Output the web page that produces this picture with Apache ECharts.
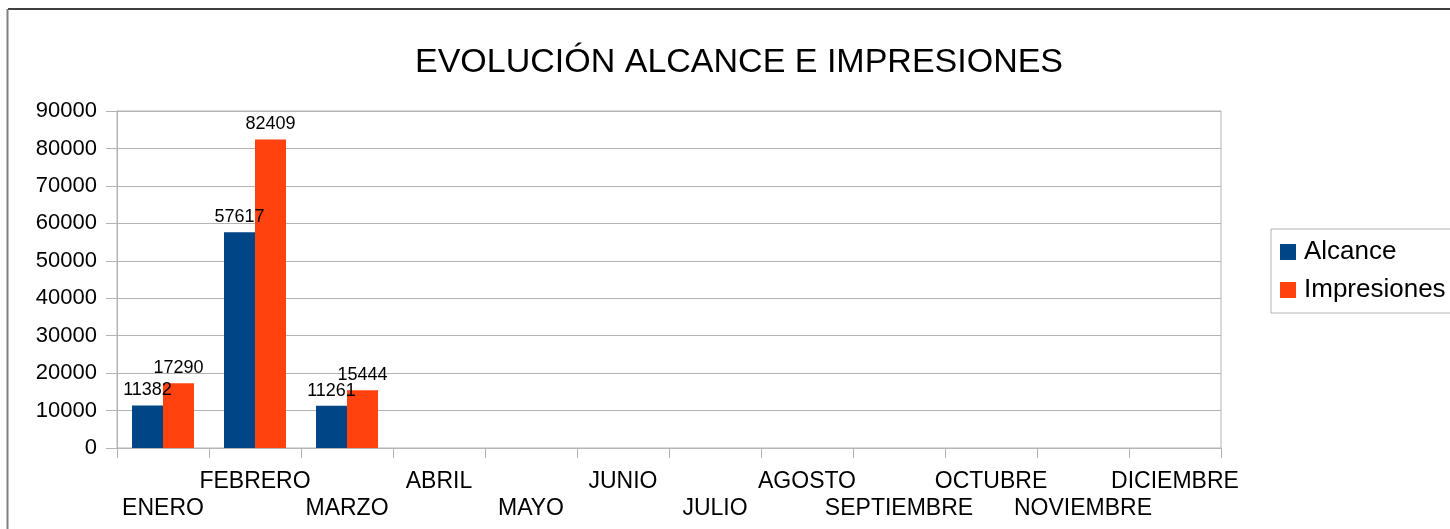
<!DOCTYPE html>
<html>
<head>
<meta charset="utf-8">
<script src="https://cdn.jsdelivr.net/npm/echarts@6/dist/echarts.min.js"></script>
<style>
  html, body { margin: 0; padding: 0; background: #fff; }
  #main { width: 1450px; height: 529px; }
</style>
</head>
<body>
<div id="main"></div>
<script>
// datos del gráfico
var meses = ['ENERO', 'FEBRERO', 'MARZO', 'ABRIL', 'MAYO', 'JUNIO', 'JULIO',
  'AGOSTO', 'SEPTIEMBRE', 'OCTUBRE', 'NOVIEMBRE', 'DICIEMBRE'];
var alcance = [11382, 57617, 11261, null, null, null, null, null, null, null, null, null];
var impresiones = [17290, 82409, 15444, null, null, null, null, null, null, null, null, null];
var yTicks = [0, 10000, 20000, 30000, 40000, 50000, 60000, 70000, 80000, 90000];

var fuente = 'Liberation Sans';
var gris = '#b3b3b3';

var chartDom = document.getElementById('main');
var myChart = echarts.init(chartDom);

var etiqueta = {
  show: true,
  position: 'top',
  distance: 6,
  color: '#000',
  fontFamily: fuente,
  fontSize: 18,
  lineHeight: 18
};

var option = {
  animation: false,
  backgroundColor: '#fff',
  textStyle: { fontFamily: fuente },
  title: {
    text: 'EVOLUCIÓN ALCANCE E IMPRESIONES',
    left: 415,
    top: 45,
    padding: 0,
    textStyle: { fontFamily: fuente, fontSize: 34, fontWeight: 'normal', color: '#000', lineHeight: 36 }
  },
  legend: {
    orient: 'vertical',
    left: 1271,
    top: 229,
    padding: [9, 20, 9, 9],
    itemGap: 10,
    itemWidth: 16,
    itemHeight: 16,
    icon: 'rect',
    borderColor: gris,
    borderWidth: 1,
    textStyle: { fontFamily: fuente, fontSize: 26, color: '#000', lineHeight: 28, padding: [0, 0, 0, 3] },
    data: ['Alcance', 'Impresiones']
  },
  grid: {
    left: 117,
    right: 229,
    top: 111,
    bottom: 81,
    show: true,
    borderColor: gris,
    borderWidth: 1
  },
  xAxis: {
    type: 'category',
    data: meses,
    axisLine: { lineStyle: { color: gris } },
    axisTick: { show: true, length: 10, lineStyle: { color: gris } },
    axisLabel: {
      interval: 0,
      margin: 20,
      color: '#000',
      fontFamily: fuente,
      fontSize: 23,
      lineHeight: 27,
      formatter: function (v, i) { return i % 2 === 0 ? '\n' + v : v; }
    }
  },
  yAxis: {
    type: 'value',
    min: yTicks[0],
    max: yTicks[yTicks.length - 1],
    interval: yTicks[1] - yTicks[0],
    axisLine: { show: true, lineStyle: { color: gris } },
    axisTick: { show: true, length: 11, lineStyle: { color: gris } },
    axisLabel: {
      margin: 20,
      color: '#000',
      fontFamily: fuente,
      fontSize: 22,
      formatter: function (v) { return String(v); }
    },
    splitLine: { lineStyle: { color: gris } }
  },
  series: [
    {
      name: 'Alcance',
      type: 'bar',
      barWidth: 31,
      barGap: '0%',
      itemStyle: { color: '#004586' },
      label: etiqueta,
      data: alcance
    },
    {
      name: 'Impresiones',
      type: 'bar',
      barWidth: 31,
      barGap: '0%',
      itemStyle: { color: '#ff420e' },
      label: etiqueta,
      data: impresiones
    }
  ],
  graphic: [
    { type: 'line', shape: { x1: 8, y1: 9, x2: 1450, y2: 9 }, style: { stroke: '#000', lineWidth: 1.5 } },
    { type: 'line', shape: { x1: 7.5, y1: 9, x2: 7.5, y2: 529 }, style: { stroke: '#808080', lineWidth: 2 } }
  ]
};

option && myChart.setOption(option);
</script>
</body>
</html>
